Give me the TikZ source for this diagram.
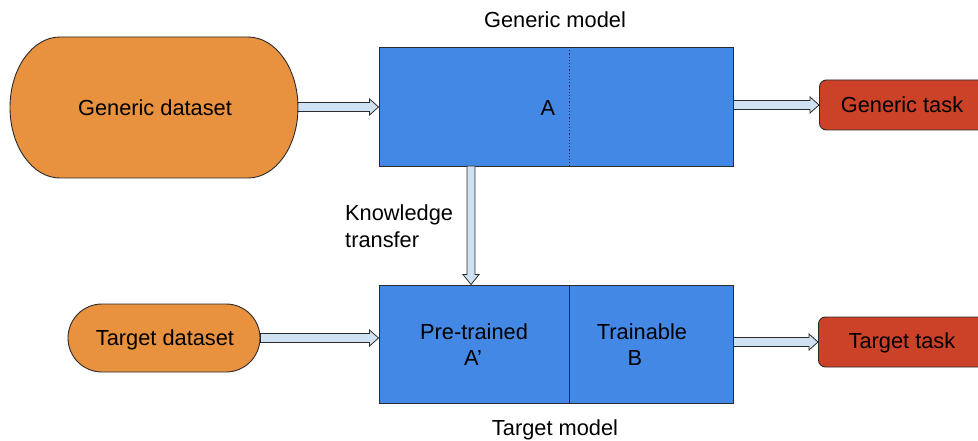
\documentclass[tikz,border=0pt]{standalone}
\usepackage{fontspec}
\setmainfont{Liberation Sans}
\usetikzlibrary{calc}
\definecolor{dataorange}{HTML}{E8913F}
\definecolor{modelblue}{HTML}{4488E5}
\definecolor{taskred}{HTML}{CC4228}
\definecolor{arrowfill}{HTML}{CFE2F3}
\definecolor{edgegray}{HTML}{2B2B2B}
\tikzset{
  lbl/.style={font=\fontsize{21.8}{26}\selectfont, text=black, inner sep=0pt},
  modelbox/.style={draw=edgegray, line width=0.9pt, fill=modelblue},
  taskbox/.style={draw=edgegray, line width=0.9pt, fill=taskred, rounded corners=7pt},
  databox/.style={draw=edgegray, line width=0.9pt, fill=dataorange},
  blockarrow/.style={draw=edgegray, line width=0.8pt, fill=arrowfill, line join=miter},
}
% horizontal block arrow from #1 to #2 (same height)
\newcommand{\hblockarrow}[2]{%
  \draw[blockarrow] let \p1=(#1), \p2=(#2) in
    (\x1,\y1+4.5pt) -- (\x2-9pt,\y1+4.5pt) -- (\x2-9pt,\y1+8pt) -- (\x2,\y1)
    -- (\x2-9pt,\y1-8pt) -- (\x2-9pt,\y1-4.5pt) -- (\x1,\y1-4.5pt) -- cycle;}
% downward block arrow from #1 to #2 (same abscissa)
\newcommand{\vblockarrow}[2]{%
  \draw[blockarrow] let \p1=(#1), \p2=(#2) in
    (\x1-4pt,\y1) -- (\x1-4pt,\y2+10pt) -- (\x1-8pt,\y2+10pt) -- (\x1,\y2)
    -- (\x1+8pt,\y2+10pt) -- (\x1+4pt,\y2+10pt) -- (\x1+4pt,\y1) -- cycle;}
\begin{document}
\begin{tikzpicture}[x=1pt, y=-1pt]
\useasboundingbox (0,0) rectangle (978,441);
\clip (0,0) rectangle (978,441);

% generic dataset: pill with elliptic ends
\draw[databox] (60,37) -- (248,37)
  arc[start angle=90, end angle=-90, x radius=50pt, y radius=70.5pt]
  -- (60,178) arc[start angle=270, end angle=90, x radius=50pt, y radius=70.5pt] -- cycle;
\node[lbl] (gdata) at (155,108) {Generic dataset};
\coordinate (gdataE) at (298,107);

% target dataset
\node[databox, rounded corners=34pt, minimum width=192pt, minimum height=68pt,
      inner sep=0pt] (tdata) at (164,338) {};
\node[lbl] (tdatatxt) at (165,340) {Target dataset};

% generic model
\node[modelbox, minimum width=354pt, minimum height=119pt, inner sep=0pt]
  (gmodel) at (556,106.5) {};
\draw[edgegray, line width=0.9pt, dash pattern=on 1.2pt off 2pt] (569,47) -- (569,166);
\node[lbl] (gA) at (548,108) {A};
\node[lbl] (gmodeltxt) at (555,20) {Generic model};

% target model
\node[modelbox, minimum width=354pt, minimum height=118pt, inner sep=0pt]
  (tmodel) at (556,344) {};
\draw[edgegray, line width=0.9pt] (569,285) -- (569,403);
\node[lbl] (tA1) at (474,332) {Pre-trained};
\node[lbl] (tA2) at (473,358) {A’};
\node[lbl] (tB1) at (642,332) {Trainable};
\node[lbl] (tB2) at (635,358) {B};
\node[lbl] (tmodeltxt) at (555,430) {Target model};

% tasks (running past the right edge)
\node[taskbox, minimum width=180pt, minimum height=50pt, inner sep=0pt, anchor=west]
  (gtask) at (819,105) {};
\node[lbl] (gtasktxt) at (902,105) {Generic task};
\node[taskbox, minimum width=180pt, minimum height=50pt, inner sep=0pt, anchor=west]
  (ttask) at (818,342) {};
\node[lbl] (ttasktxt) at (902,343) {Target task};

% knowledge transfer label
\node[lbl, align=left, anchor=west] (ktxt) at (345,226) {Knowledge\\[1pt]transfer};

% connectors
\hblockarrow{gdataE}{gmodel.west |- gdataE}
\hblockarrow{gmodel.east |- gtask.west}{gtask.west}
\hblockarrow{tdata.east}{tmodel.west |- tdata.east}
\hblockarrow{tmodel.east |- ttask.west}{ttask.west}
\coordinate (ktop) at (471,166);
\vblockarrow{ktop}{ktop |- tmodel.north}
\end{tikzpicture}
\end{document}
